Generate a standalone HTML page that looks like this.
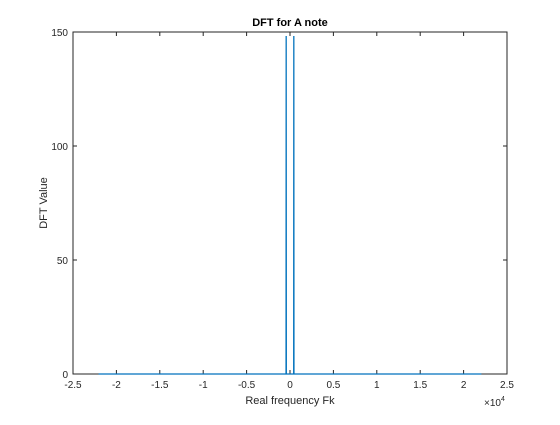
<!DOCTYPE html>
<html><head><meta charset="utf-8"><style>
body{margin:0;background:#fff}
svg text{font-family:"Liberation Sans",sans-serif;fill:#262626}
</style></head><body>
<svg id="chart" width="560" height="420" xmlns="http://www.w3.org/2000/svg">
<rect x="0" y="0" width="560" height="420" fill="#fff"/>
<rect x="73" y="32" width="434" height="342" fill="#fff" stroke="#262626" stroke-width="1"/>
<g id="ticks"></g>
<path id="series" fill="none" stroke="#0072BD" stroke-width="1.2"/>
<text x="290" y="26" text-anchor="middle" font-size="11" font-weight="bold" style="fill:#000">DFT for A note</text>
<text x="290" y="404" text-anchor="middle" font-size="11">Real frequency Fk</text>
<text x="47" y="203" text-anchor="middle" font-size="11" transform="rotate(-90 47 203)">DFT Value</text>
<text x="484" y="406" font-size="10">×10<tspan dy="-5" font-size="7">4</tspan></text>
</svg>
<script>
const xTicks=[-2.5,-2,-1.5,-1,-0.5,0,0.5,1,1.5,2,2.5];
const xTickLabels=["-2.5","-2","-1.5","-1","-0.5","0","0.5","1","1.5","2","2.5"];
const yTicks=[0,50,100,150];
const yTickLabels=["0","50","100","150"];
const freqs=[-22050,-460,-445,-435,-420,0,420,435,445,460,22050];
const values=[0,0,148,148,0,0,0,148,148,0,0];
const X=v=>290+v*86.8; // in units of 1e4
const Y=v=>374-v*342/150;
const ns="http://www.w3.org/2000/svg";
const g=document.getElementById('ticks');
xTicks.forEach((t,i)=>{
 const x=X(t);
 const l=document.createElementNS(ns,'path');
 l.setAttribute('d',`M${x},374v-4M${x},32v4`);l.setAttribute('stroke','#262626');
 
 
 g.appendChild(l);
 const tx=document.createElementNS(ns,'text');
 tx.setAttribute('x',x);tx.setAttribute('y',388);tx.setAttribute('text-anchor','middle');tx.setAttribute('font-size','10');
 tx.textContent=xTickLabels[i];
 
 
 g.appendChild(tx);
});
yTicks.forEach((t,i)=>{
 const y=Y(t);
 const l=document.createElementNS(ns,'path');
 l.setAttribute('d',`M73,${y}h4M507,${y}h-4`);l.setAttribute('stroke','#262626');
 
 
 g.appendChild(l);
 const tx=document.createElementNS(ns,'text');
 tx.setAttribute('x',68);tx.setAttribute('y',y+4);tx.setAttribute('text-anchor','end');tx.setAttribute('font-size','10');
 tx.textContent=yTickLabels[i];
 
 
 g.appendChild(tx);
});
document.getElementById('series').setAttribute('d',freqs.map((f,i)=>(i?'L':'M')+X(f/1e4).toFixed(2)+','+Y(values[i]).toFixed(2)).join(''));
</script>
</body></html>
